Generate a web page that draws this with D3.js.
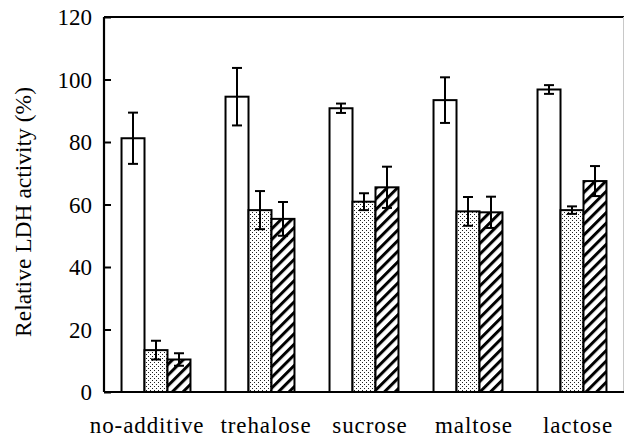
<!DOCTYPE html>
<html>
<head>
<meta charset="utf-8">
<script src="https://cdn.jsdelivr.net/npm/d3@7"></script>
<style>
  html, body { margin: 0; padding: 0; background: #fff; }
  svg { display: block; }
</style>
</head>
<body>
<svg id="chart" width="624" height="439" font-family="'Liberation Serif', 'Times New Roman', serif"></svg>
<script>
const categories = ["no-additive", "trehalose", "sucrose", "maltose", "lactose"];
const seriesNames = ["control", "dotted", "hatched"];
const valuesControl = [81.2, 94.5, 90.8, 93.4, 96.8];
const errorsControl = [8.2, 9.2, 1.5, 7.3, 1.4];
const valuesDotted = [13.4, 58.2, 60.9, 57.8, 58.2];
const errorsDotted = [3.0, 6.1, 2.7, 4.6, 1.2];
const valuesHatched = [10.4, 55.4, 65.5, 57.5, 67.5];
const errorsHatched = [2.0, 5.4, 6.6, 5.0, 4.8];
const yTicks = [0, 20, 40, 60, 80, 100, 120];
const yLabel = "Relative LDH activity (%)";

(function () {
const FONT = "'Liberation Serif', 'Times New Roman', serif";
const svg = d3.select("#chart");
const mLeft = 104, mRight = 624, mTop = 17, mBottom = 392;

const defs = svg.append("defs");
const dots = defs.append("pattern").attr("id", "dots")
  .attr("patternUnits", "userSpaceOnUse").attr("width", 4).attr("height", 4);
dots.append("rect").attr("width", 4).attr("height", 4).attr("fill", "#fff");
dots.append("rect").attr("x", 0).attr("y", 0).attr("width", 1).attr("height", 1).attr("fill", "#222");
dots.append("rect").attr("x", 2).attr("y", 2).attr("width", 1).attr("height", 1).attr("fill", "#222");

const hatch = defs.append("pattern").attr("id", "hatch")
  .attr("patternUnits", "userSpaceOnUse").attr("width", 7.5).attr("height", 7.5)
  .attr("patternTransform", "rotate(45)");
hatch.append("rect").attr("width", 7.5).attr("height", 7.5).attr("fill", "#fff");
hatch.append("rect").attr("x", 0).attr("y", 0).attr("width", 3).attr("height", 7.5).attr("fill", "#000");

const fills = ["#fff", "url(#dots)", "url(#hatch)"];

const x = d3.scaleBand().domain(categories).range([mLeft, mRight])
  .paddingInner(0.337).paddingOuter(0.1685);
const xs = d3.scaleBand().domain(seriesNames).range([0, x.bandwidth()]).padding(0);
const y = d3.scaleLinear().domain([0, 120]).range([mBottom, mTop]);

const data = [];
categories.forEach((c, i) => {
  data.push({c, s: "control", v: valuesControl[i], e: errorsControl[i]});
  data.push({c, s: "dotted", v: valuesDotted[i], e: errorsDotted[i]});
  data.push({c, s: "hatched", v: valuesHatched[i], e: errorsHatched[i]});
});

// bars
svg.append("g").selectAll("rect").data(data).join("rect")
  .attr("x", d => x(d.c) + xs(d.s))
  .attr("y", d => y(d.v))
  .attr("width", xs.bandwidth())
  .attr("height", d => y(0) - y(d.v))
  .attr("fill", d => fills[seriesNames.indexOf(d.s)])
  .attr("stroke", "#000").attr("stroke-width", 2);

// error bars
const eb = svg.append("g").attr("stroke", "#000").attr("stroke-width", 2);
data.forEach(d => {
  const cx = x(d.c) + xs(d.s) + xs.bandwidth() / 2;
  const y1 = y(d.v + d.e), y2 = y(d.v - d.e);
  eb.append("line").attr("x1", cx).attr("x2", cx).attr("y1", y1).attr("y2", y2);
  eb.append("line").attr("x1", cx - 5).attr("x2", cx + 5).attr("y1", y1).attr("y2", y1);
  eb.append("line").attr("x1", cx - 5).attr("x2", cx + 5).attr("y1", y2).attr("y2", y2);
});

// frame: top line and faint right edge
svg.append("line").attr("x1", mLeft).attr("x2", mRight).attr("y1", mTop).attr("y2", mTop)
  .attr("stroke", "#000").attr("stroke-width", 2);
svg.append("line").attr("x1", 623.5).attr("x2", 623.5).attr("y1", mTop).attr("y2", mBottom)
  .attr("stroke", "#c8c8c8").attr("stroke-width", 1);

// y axis
const yAxis = svg.append("g").attr("transform", `translate(${mLeft},0)`)
  .call(d3.axisRight(y).tickValues(yTicks).tickSize(7).tickFormat(""));
yAxis.select(".domain").attr("stroke", "#000").attr("stroke-width", 2.2)
  .attr("d", `M0,${mTop}V${mBottom}`);
yAxis.selectAll(".tick line").attr("stroke", "#000").attr("stroke-width", 2);

svg.append("g").selectAll("text").data(yTicks).join("text")
  .attr("font-family", FONT)
  .attr("x", 92).attr("y", d => y(d)).attr("dy", "0.35em")
  .attr("text-anchor", "end").attr("font-size", 23)
  .text(d => d);

// x axis
const xAxis = svg.append("g").attr("transform", `translate(0,${mBottom})`)
  .call(d3.axisBottom(x).tickSize(0).tickFormat(""));
xAxis.select(".domain").attr("stroke", "#000").attr("stroke-width", 2.2)
  .attr("d", `M${mLeft},0H${mRight}`);

const labels = svg.append("g").selectAll("text").data(categories).join("text")
  .attr("font-family", FONT)
  .attr("x", d => x(d) + x.bandwidth() / 2 + 6)
  .attr("y", 433)
  .attr("text-anchor", "middle").attr("font-size", 23)
  .attr("letter-spacing", 0.9)
  .text(d => d);

// resolve overlaps right-to-left: keep a minimum gap between neighbouring labels
const nodes = labels.nodes();
const minGap = 16;
for (let i = nodes.length - 2; i >= 0; i--) {
  const a = nodes[i], b = nodes[i + 1];
  const ax = +a.getAttribute("x"), aw = a.getComputedTextLength();
  const bx = +b.getAttribute("x"), bw = b.getComputedTextLength();
  const aRight = ax + aw / 2, bLeft = bx - bw / 2;
  if (aRight + minGap > bLeft) a.setAttribute("x", bLeft - minGap - aw / 2);
}

svg.append("text")
  .attr("font-family", FONT)
  .attr("transform", `translate(31,212) rotate(-90)`)
  .attr("text-anchor", "middle").attr("font-size", 23.5)
  .text(yLabel);
})();
</script>
</body>
</html>
